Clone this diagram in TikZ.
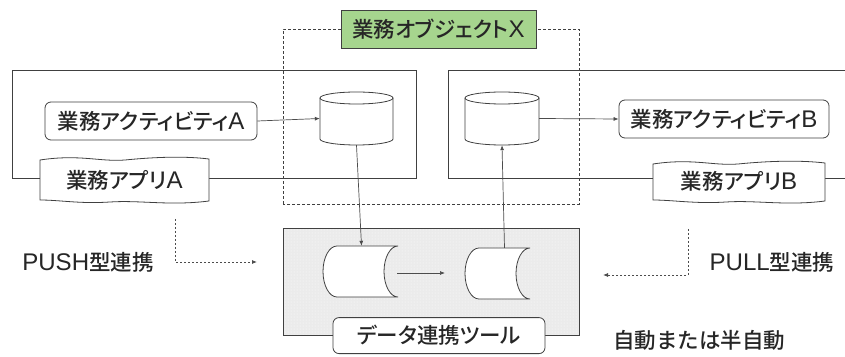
\documentclass[tikz,border=0pt]{standalone}
\usepackage{fontspec}
\setmainfont{Noto Sans CJK JP}[UprightFont={* Medium}]
\newfontfamily\propfont{Noto Sans CJK JP}[UprightFont={* Medium}, RawFeature=+palt]
\newfontfamily\latfont[Scale=1.12]{Liberation Sans}
\newcommand\latn[1]{{\latfont #1}}
\usetikzlibrary{arrows.meta,patterns}
\definecolor{objgreen}{HTML}{A6D58E}
\definecolor{linegray}{HTML}{404040}
\definecolor{toolfill}{HTML}{EBEBEB}
\tikzset{
  lbl/.style={font=\fontsize{21.5}{23}\selectfont, text=black!85, inner sep=0pt},
  kata/.style={font=\propfont\fontsize{21.5}{23}\selectfont},
  actbox/.style={draw=linegray, line width=0.8pt, rounded corners=6pt, fill=white, inner sep=0pt, text=black!85, font=\fontsize{21.5}{23}\selectfont},
  appframe/.style={draw=linegray, line width=0.8pt},
  dashframe/.style={draw=linegray, line width=0.8pt, dash pattern=on 3pt off 2pt},
  conn/.style={draw=black!70, line width=0.7pt, -{Latex[length=5pt,width=4pt]}},
  dotarrow/.style={draw=black!70, line width=0.8pt, dash pattern=on 2pt off 2pt, -{Latex[length=5pt,width=4pt]}},
  cylline/.style={draw=linegray, line width=0.8pt, fill=white},
  hidden/.style={inner sep=0pt, minimum size=0pt, draw=none}
}
\begin{document}
\begin{tikzpicture}[x=1pt,y=1pt]
\useasboundingbox (0,0) rectangle (845,356);
\fill[white] (0,0) rectangle (845,356);

% application frames
\draw[appframe] (12,178) rectangle (416,286);
\draw[appframe] (848,286) -- (448,286) -- (448,178) -- (848,178);

% dashed object frame
\draw[dashframe] (283,152) rectangle (579,327);

% business object label
\node[draw=linegray, line width=0.8pt, fill=objgreen, minimum width=195pt, minimum height=38pt, inner sep=0pt,
      text=black!85, kata] (obj) at (438.5,327) {業務オブジェクト\latn{X}};

% data tool box
\node[draw=linegray, line width=0.8pt, fill=toolfill, minimum width=296pt, minimum height=107pt, inner sep=0pt] (tool) at (431,74.5) {};
\fill[pattern=dots, pattern color=white] (283.5,21.5) rectangle (578.5,127.5);

% activities
\node[actbox, kata, minimum width=212pt, minimum height=38pt] (actA) at (151,235) {業務アクティビティ\latn{A}};
\node[actbox, kata, minimum width=210pt, minimum height=38pt] (actB) at (724,237) {業務アクティビティ\latn{B}};

% upright cylinders
\node[hidden, minimum width=73pt, minimum height=53pt] (cylA) at (356.5,237.5) {};
\draw[cylline] (320,258) -- (320,217) arc[start angle=180, end angle=360, x radius=36.5, y radius=6] -- (393,258);
\draw[cylline] (356.5,258) ellipse[x radius=36.5, y radius=6];
\node[hidden, minimum width=74pt, minimum height=53pt] (cylB) at (502,237.5) {};
\draw[cylline] (465,258) -- (465,217) arc[start angle=180, end angle=360, x radius=37, y radius=6] -- (539,258);
\draw[cylline] (502,258) ellipse[x radius=37, y radius=6];

% horizontal cylinders
\node[hidden, minimum width=77pt, minimum height=51pt] (hcA) at (361.5,84.5) {};
\draw[cylline] (398,110) -- (337,110) arc[start angle=90, end angle=270, x radius=14, y radius=25.5]
   -- (398,59) arc[start angle=270, end angle=90, x radius=14, y radius=25.5] -- cycle;
\node[hidden, minimum width=79pt, minimum height=51pt] (hcB) at (504.5,82.5) {};
\draw[cylline] (530,108) -- (479,108) arc[start angle=90, end angle=270, x radius=14, y radius=25.5]
   -- (530,57) arc[start angle=270, end angle=90, x radius=14, y radius=25.5] -- cycle;

% document shapes (apps)
\draw[cylline] (40,196) .. controls (80,202) and (100,194) .. (125,196) .. controls (155,199) and (185,200) .. (209,197)
   -- (209,155) .. controls (170,150) and (140,156) .. (110,154) .. controls (80,152) and (60,156) .. (40,156) -- cycle;
\node[lbl, kata] (appA) at (124.5,176) {業務アプリ\latn{A}};
\draw[cylline] (653,192) .. controls (693,198) and (713,190) .. (738,192) .. controls (768,195) and (800,196) .. (825,193)
   -- (825,155) .. controls (786,150) and (756,156) .. (726,154) .. controls (696,152) and (673,156) .. (653,156) -- cycle;
\node[lbl, kata] (appB) at (739,175) {業務アプリ\latn{B}};

% tool label
\node[actbox, kata, minimum width=212pt, minimum height=36pt, anchor=south] (toolLbl) at (439,2) {データ連携ツール};

% connectors
\draw[conn] (actA.east) -- (cylA.west);
\draw[conn] (cylB.east) -- (actB.west);
\draw[conn] (cylA.south) -- (hcA.north);
\draw[conn] (hcB.north) -- (cylB.south);
\coordinate (hmidA) at (397,83);
\coordinate (hmidB) at (445,83);
\draw[conn] (hmidA) -- (hmidB);

% PUSH / PULL
\node[lbl] (push) at (88,94) {\latn{PUSH}型連携};
\coordinate (pushS) at (175,137);
\coordinate (pushE) at (257,94);
\draw[dotarrow] (pushS) |- (pushE);
\node[lbl] (pull) at (772,94) {\latn{PULL}型連携};
\coordinate (pullS) at (688,127);
\coordinate (pullE) at (603,81);
\draw[dotarrow] (pullS) |- (pullE);

\node[lbl] (auto) at (699,16) {自動または半自動};
\end{tikzpicture}
\end{document}
